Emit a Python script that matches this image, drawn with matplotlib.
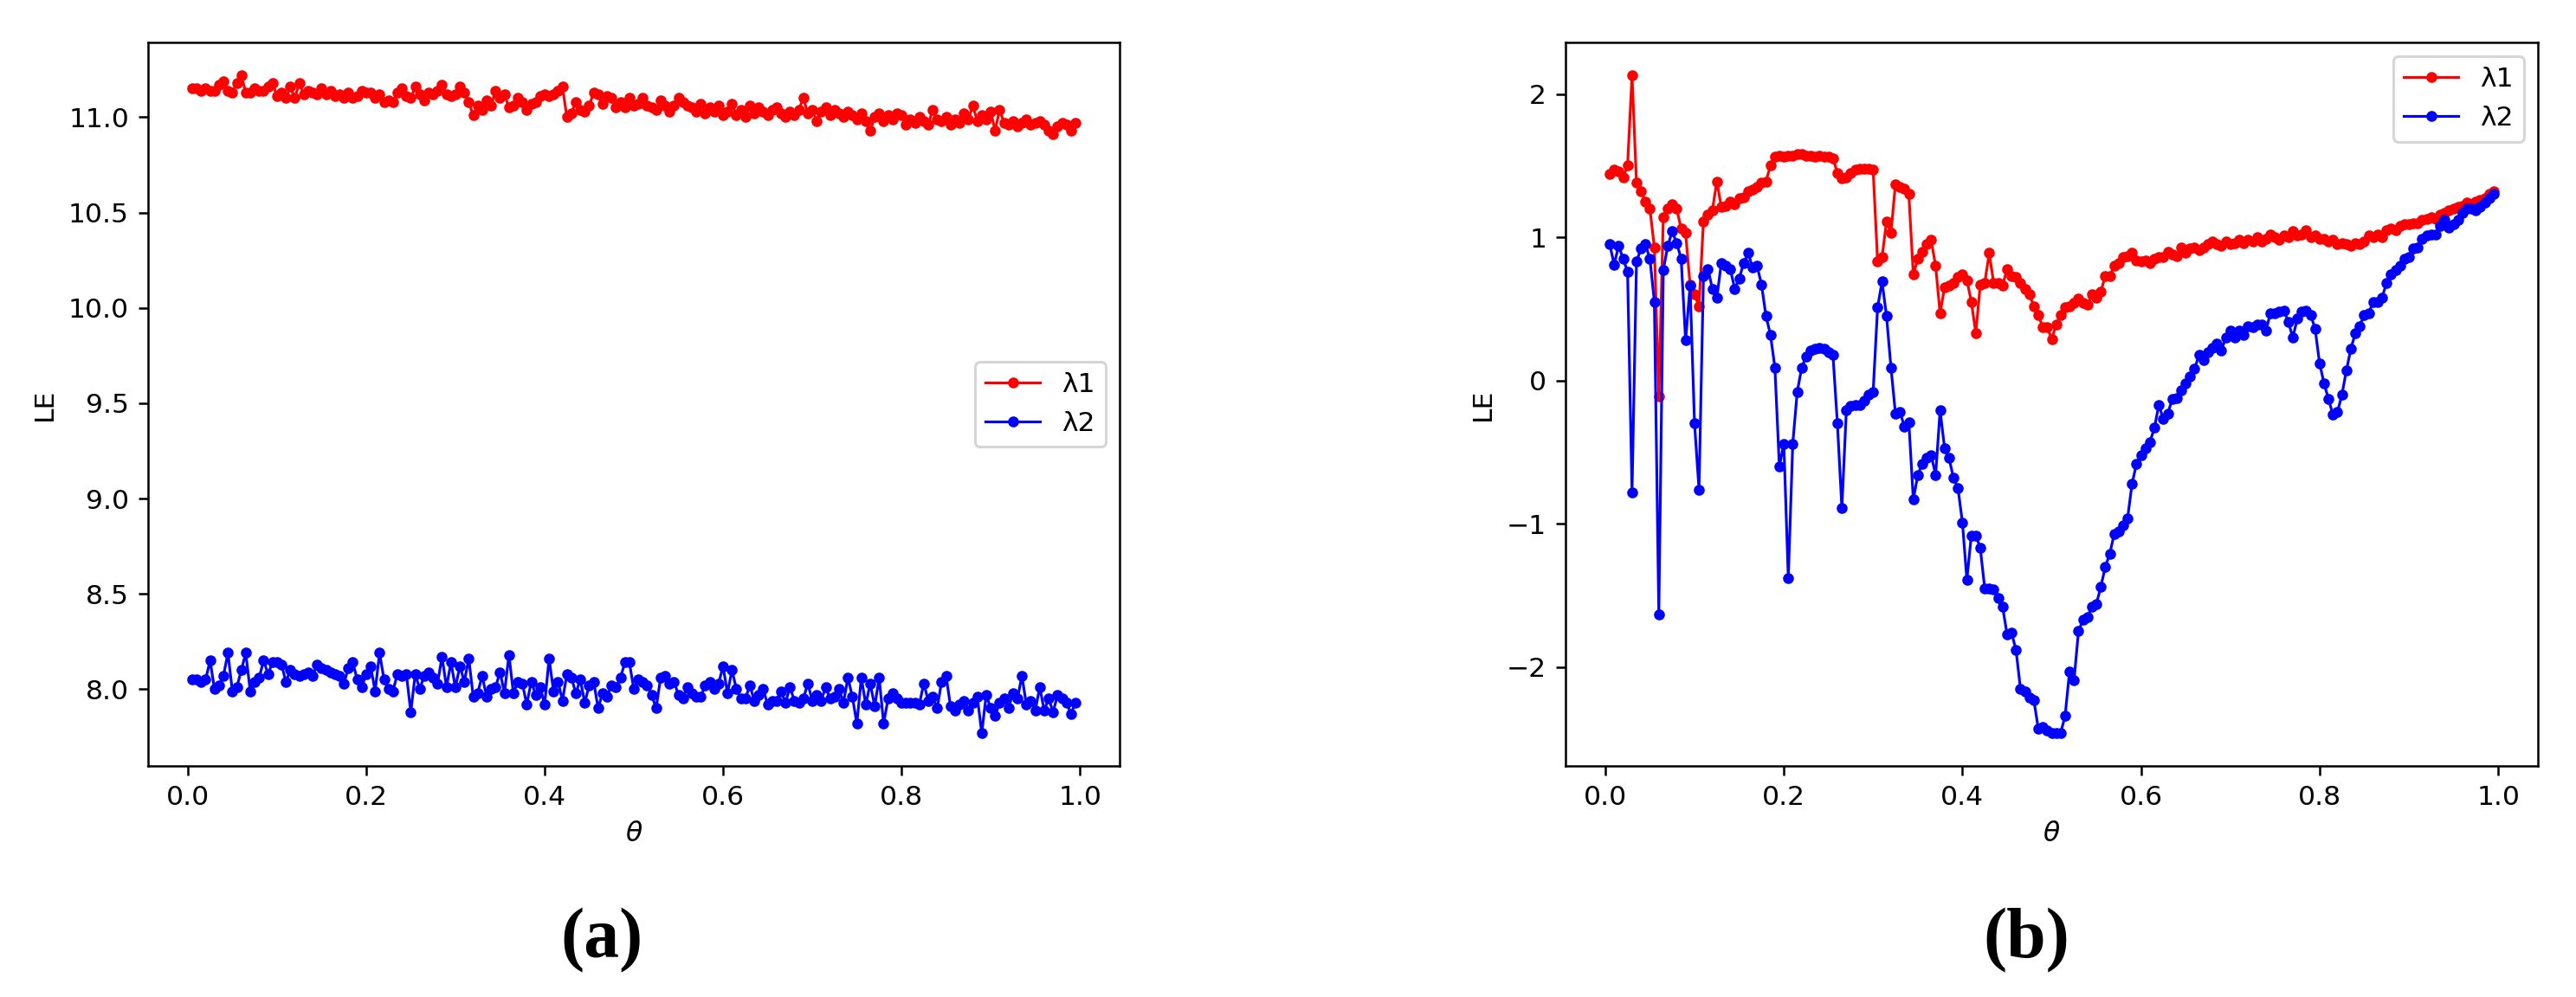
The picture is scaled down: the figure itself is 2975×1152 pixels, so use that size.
import numpy as np
import matplotlib
matplotlib.use('Agg')
import matplotlib.pyplot as plt

# ---- panel (a) ----
a_lam1 = [11.15, 11.15, 11.14, 11.15, 11.14, 11.14, 11.17, 11.19, 11.14, 11.13, 11.18, 11.22, 11.13, 11.13, 11.15, 11.14, 11.14, 11.16, 11.18, 11.11,
          11.13, 11.10, 11.16, 11.10, 11.18, 11.12, 11.14, 11.13, 11.12, 11.15, 11.12, 11.14, 11.11, 11.12, 11.10, 11.13, 11.10, 11.11, 11.14, 11.13,
          11.13, 11.10, 11.12, 11.08, 11.09, 11.08, 11.13, 11.15, 11.11, 11.10, 11.16, 11.12, 11.09, 11.13, 11.12, 11.14, 11.17, 11.12, 11.11, 11.12,
          11.16, 11.13, 11.08, 11.01, 11.06, 11.04, 11.09, 11.06, 11.14, 11.10, 11.12, 11.05, 11.06, 11.10, 11.08, 11.04, 11.07, 11.08, 11.11, 11.12,
          11.11, 11.12, 11.14, 11.16, 11.00, 11.02, 11.08, 11.04, 11.03, 11.06, 11.13, 11.12, 11.07, 11.11, 11.10, 11.05, 11.08, 11.05, 11.10, 11.06,
          11.07, 11.10, 11.06, 11.05, 11.04, 11.09, 11.06, 11.03, 11.06, 11.10, 11.08, 11.06, 11.05, 11.03, 11.07, 11.02, 11.05, 11.03, 11.06, 11.01,
          11.03, 11.07, 11.01, 11.04, 11.00, 11.06, 11.02, 11.05, 11.03, 11.01, 11.04, 11.05, 11.02, 11.00, 11.03, 11.01, 11.04, 11.10, 11.02, 11.04,
          10.98, 11.03, 11.05, 11.01, 11.04, 11.02, 11.00, 11.03, 11.01, 10.99, 11.02, 10.98, 10.93, 11.00, 11.02, 10.98, 11.01, 10.99, 11.02, 11.01,
          10.96, 10.99, 10.97, 11.00, 10.98, 10.96, 11.04, 10.99, 10.98, 11.00, 10.96, 10.99, 10.97, 11.02, 10.99, 11.06, 10.98, 11.01, 10.99, 11.03,
          10.93, 11.04, 10.97, 10.96, 10.98, 10.95, 10.97, 10.99, 10.96, 10.97, 10.98, 10.96, 10.93, 10.91, 10.95, 10.97, 10.96, 10.93, 10.97]
a_lam2 = [8.05, 8.05, 8.04, 8.05, 8.15, 8.00, 8.02, 8.07, 8.19, 7.99, 8.01, 8.10, 8.19, 7.99, 8.04, 8.06, 8.15, 8.08, 8.14, 8.14,
          8.13, 8.04, 8.10, 8.08, 8.07, 8.08, 8.09, 8.07, 8.13, 8.11, 8.10, 8.09, 8.08, 8.07, 8.03, 8.11, 8.14, 8.05, 8.01, 8.08,
          8.12, 7.99, 8.19, 8.05, 8.00, 7.99, 8.08, 8.07, 8.08, 7.88, 8.08, 8.00, 8.07, 8.09, 8.06, 8.03, 8.17, 8.01, 8.14, 8.01,
          8.12, 8.04, 8.16, 7.96, 7.98, 8.07, 7.96, 8.00, 8.01, 8.09, 7.98, 8.18, 7.98, 8.04, 8.03, 7.92, 8.04, 7.97, 8.01, 7.92,
          8.16, 7.99, 8.04, 7.94, 8.08, 8.06, 7.98, 8.05, 7.93, 8.02, 8.04, 7.90, 7.98, 7.96, 8.02, 8.01, 8.06, 8.14, 8.14, 8.00,
          8.05, 8.04, 8.02, 7.97, 7.90, 8.06, 8.07, 8.03, 8.04, 7.97, 7.95, 8.01, 7.98, 7.96, 7.96, 8.02, 8.04, 8.00, 8.03, 8.12,
          7.98, 8.10, 8.00, 7.95, 7.95, 8.02, 7.94, 7.97, 8.00, 7.92, 7.94, 7.94, 7.99, 7.93, 8.01, 7.94, 7.93, 7.95, 8.03, 7.94,
          7.97, 7.94, 8.01, 7.95, 7.96, 8.00, 7.93, 8.06, 7.96, 7.82, 8.06, 7.92, 8.03, 7.91, 8.06, 7.82, 7.95, 7.98, 7.95, 7.93,
          7.93, 7.93, 7.93, 7.92, 8.03, 7.94, 7.96, 7.90, 8.04, 8.07, 7.91, 7.89, 7.92, 7.94, 7.89, 7.93, 7.96, 7.77, 7.97, 7.90,
          7.86, 7.93, 7.95, 7.90, 7.98, 7.95, 8.07, 7.92, 7.94, 7.89, 8.01, 7.89, 7.95, 7.88, 7.97, 7.95, 7.93, 7.87, 7.93]

# ---- panel (b) ----
b_lam1 = [1.44, 1.47, 1.46, 1.42, 1.50, 2.13, 1.38, 1.32, 1.25, 1.20, 0.93, -0.11, 1.14, 1.20, 1.23, 1.20, 1.06, 1.03, 0.67, 0.60,
          0.52, 1.11, 1.16, 1.19, 1.39, 1.21, 1.22, 1.25, 1.23, 1.27, 1.28, 1.32, 1.33, 1.35, 1.38, 1.39, 1.50, 1.56, 1.57, 1.56,
          1.57, 1.57, 1.58, 1.58, 1.57, 1.57, 1.56, 1.57, 1.56, 1.56, 1.55, 1.45, 1.41, 1.42, 1.45, 1.47, 1.48, 1.48, 1.48, 1.47,
          0.83, 0.86, 1.11, 1.03, 1.37, 1.35, 1.34, 1.30, 0.74, 0.85, 0.90, 0.95, 0.98, 0.80, 0.47, 0.65, 0.66, 0.68, 0.72, 0.74,
          0.70, 0.55, 0.33, 0.67, 0.68, 0.89, 0.68, 0.68, 0.66, 0.78, 0.73, 0.72, 0.68, 0.64, 0.60, 0.52, 0.46, 0.37, 0.37, 0.29,
          0.39, 0.46, 0.51, 0.52, 0.54, 0.57, 0.54, 0.53, 0.60, 0.58, 0.62, 0.73, 0.73, 0.80, 0.82, 0.86, 0.87, 0.89, 0.84, 0.83,
          0.84, 0.82, 0.85, 0.86, 0.86, 0.90, 0.88, 0.87, 0.93, 0.89, 0.92, 0.93, 0.91, 0.93, 0.95, 0.97, 0.95, 0.94, 0.97, 0.95,
          0.96, 0.98, 0.96, 0.98, 0.97, 1.00, 0.97, 0.99, 1.02, 1.00, 0.98, 1.01, 1.00, 1.04, 1.01, 1.02, 1.05, 1.00, 1.01, 0.99,
          0.99, 0.97, 0.98, 0.95, 0.96, 0.95, 0.94, 0.96, 0.95, 0.97, 1.01, 1.00, 1.02, 1.00, 1.05, 1.06, 1.05, 1.08, 1.09, 1.09,
          1.10, 1.10, 1.12, 1.13, 1.14, 1.13, 1.16, 1.17, 1.19, 1.20, 1.21, 1.22, 1.24, 1.23, 1.25, 1.26, 1.27, 1.30, 1.32]
b_lam2 = [0.95, 0.81, 0.94, 0.85, 0.76, -0.78, 0.83, 0.92, 0.95, 0.85, 0.55, -1.63, 0.77, 0.94, 1.04, 0.96, 0.85, 0.28, 0.66, -0.30,
          -0.76, 0.73, 0.78, 0.64, 0.58, 0.82, 0.80, 0.78, 0.64, 0.71, 0.82, 0.89, 0.79, 0.80, 0.67, 0.45, 0.32, 0.09, -0.60, -0.44,
          -1.38, -0.44, -0.08, 0.09, 0.17, 0.21, 0.22, 0.23, 0.22, 0.20, 0.18, -0.30, -0.89, -0.21, -0.18, -0.17, -0.17, -0.14, -0.10, -0.08,
          0.51, 0.69, 0.45, 0.09, -0.23, -0.22, -0.32, -0.29, -0.83, -0.66, -0.58, -0.54, -0.52, -0.66, -0.21, -0.47, -0.54, -0.68, -0.75, -0.99,
          -1.39, -1.08, -1.08, -1.17, -1.45, -1.45, -1.46, -1.52, -1.58, -1.77, -1.76, -1.88, -2.15, -2.17, -2.21, -2.23, -2.43, -2.42, -2.44, -2.46,
          -2.46, -2.46, -2.34, -2.03, -2.09, -1.75, -1.67, -1.65, -1.58, -1.56, -1.44, -1.30, -1.21, -1.07, -1.05, -1.01, -0.96, -0.72, -0.58, -0.52,
          -0.47, -0.43, -0.33, -0.17, -0.27, -0.23, -0.13, -0.12, -0.07, -0.02, 0.03, 0.08, 0.18, 0.14, 0.20, 0.23, 0.26, 0.21, 0.30, 0.35,
          0.30, 0.35, 0.32, 0.38, 0.37, 0.39, 0.39, 0.35, 0.47, 0.47, 0.48, 0.49, 0.41, 0.30, 0.43, 0.48, 0.49, 0.46, 0.36, 0.12,
          -0.02, -0.13, -0.24, -0.22, -0.10, 0.07, 0.22, 0.33, 0.38, 0.46, 0.47, 0.55, 0.55, 0.58, 0.68, 0.74, 0.77, 0.80, 0.85, 0.86,
          0.92, 0.93, 0.99, 1.01, 1.02, 1.02, 1.08, 1.12, 1.07, 1.09, 1.12, 1.17, 1.20, 1.20, 1.19, 1.21, 1.24, 1.27, 1.30]


def theta_for(vals):
    # theta grid 0.005 ... 0.995
    return np.linspace(0.005, 0.995, len(vals))


DPI = 226
fig = plt.figure(figsize=(2975 / DPI, 1152 / DPI), dpi=DPI)

ax1 = fig.add_axes([171 / 2975, 1 - 885 / 1152, 1122 / 2975, 836 / 1152])
ax2 = fig.add_axes([1808 / 2975, 1 - 885 / 1152, 1123 / 2975, 836 / 1152])

for ax, l1, l2, loc in [(ax1, a_lam1, a_lam2, 'center right'),
                        (ax2, b_lam1, b_lam2, 'upper right')]:
    ax.plot(theta_for(l1), l1, '.-', color='red', linewidth=1, label='λ1')
    ax.plot(theta_for(l2), l2, '.-', color='blue', linewidth=1, label='λ2')
    ax.set_xlabel(r'$\theta$')
    ax.set_ylabel('LE')
    ax.legend(loc=loc)

# panel captions
fig.text(695 / 2975, 1 - 1087 / 1152, '(a)', ha='center', va='center',
         family='Liberation Serif', fontweight='bold', fontsize=26)
fig.text(2340 / 2975, 1 - 1087 / 1152, '(b)', ha='center', va='center',
         family='Liberation Serif', fontweight='bold', fontsize=26)

fig.savefig('out.png', dpi=DPI)
